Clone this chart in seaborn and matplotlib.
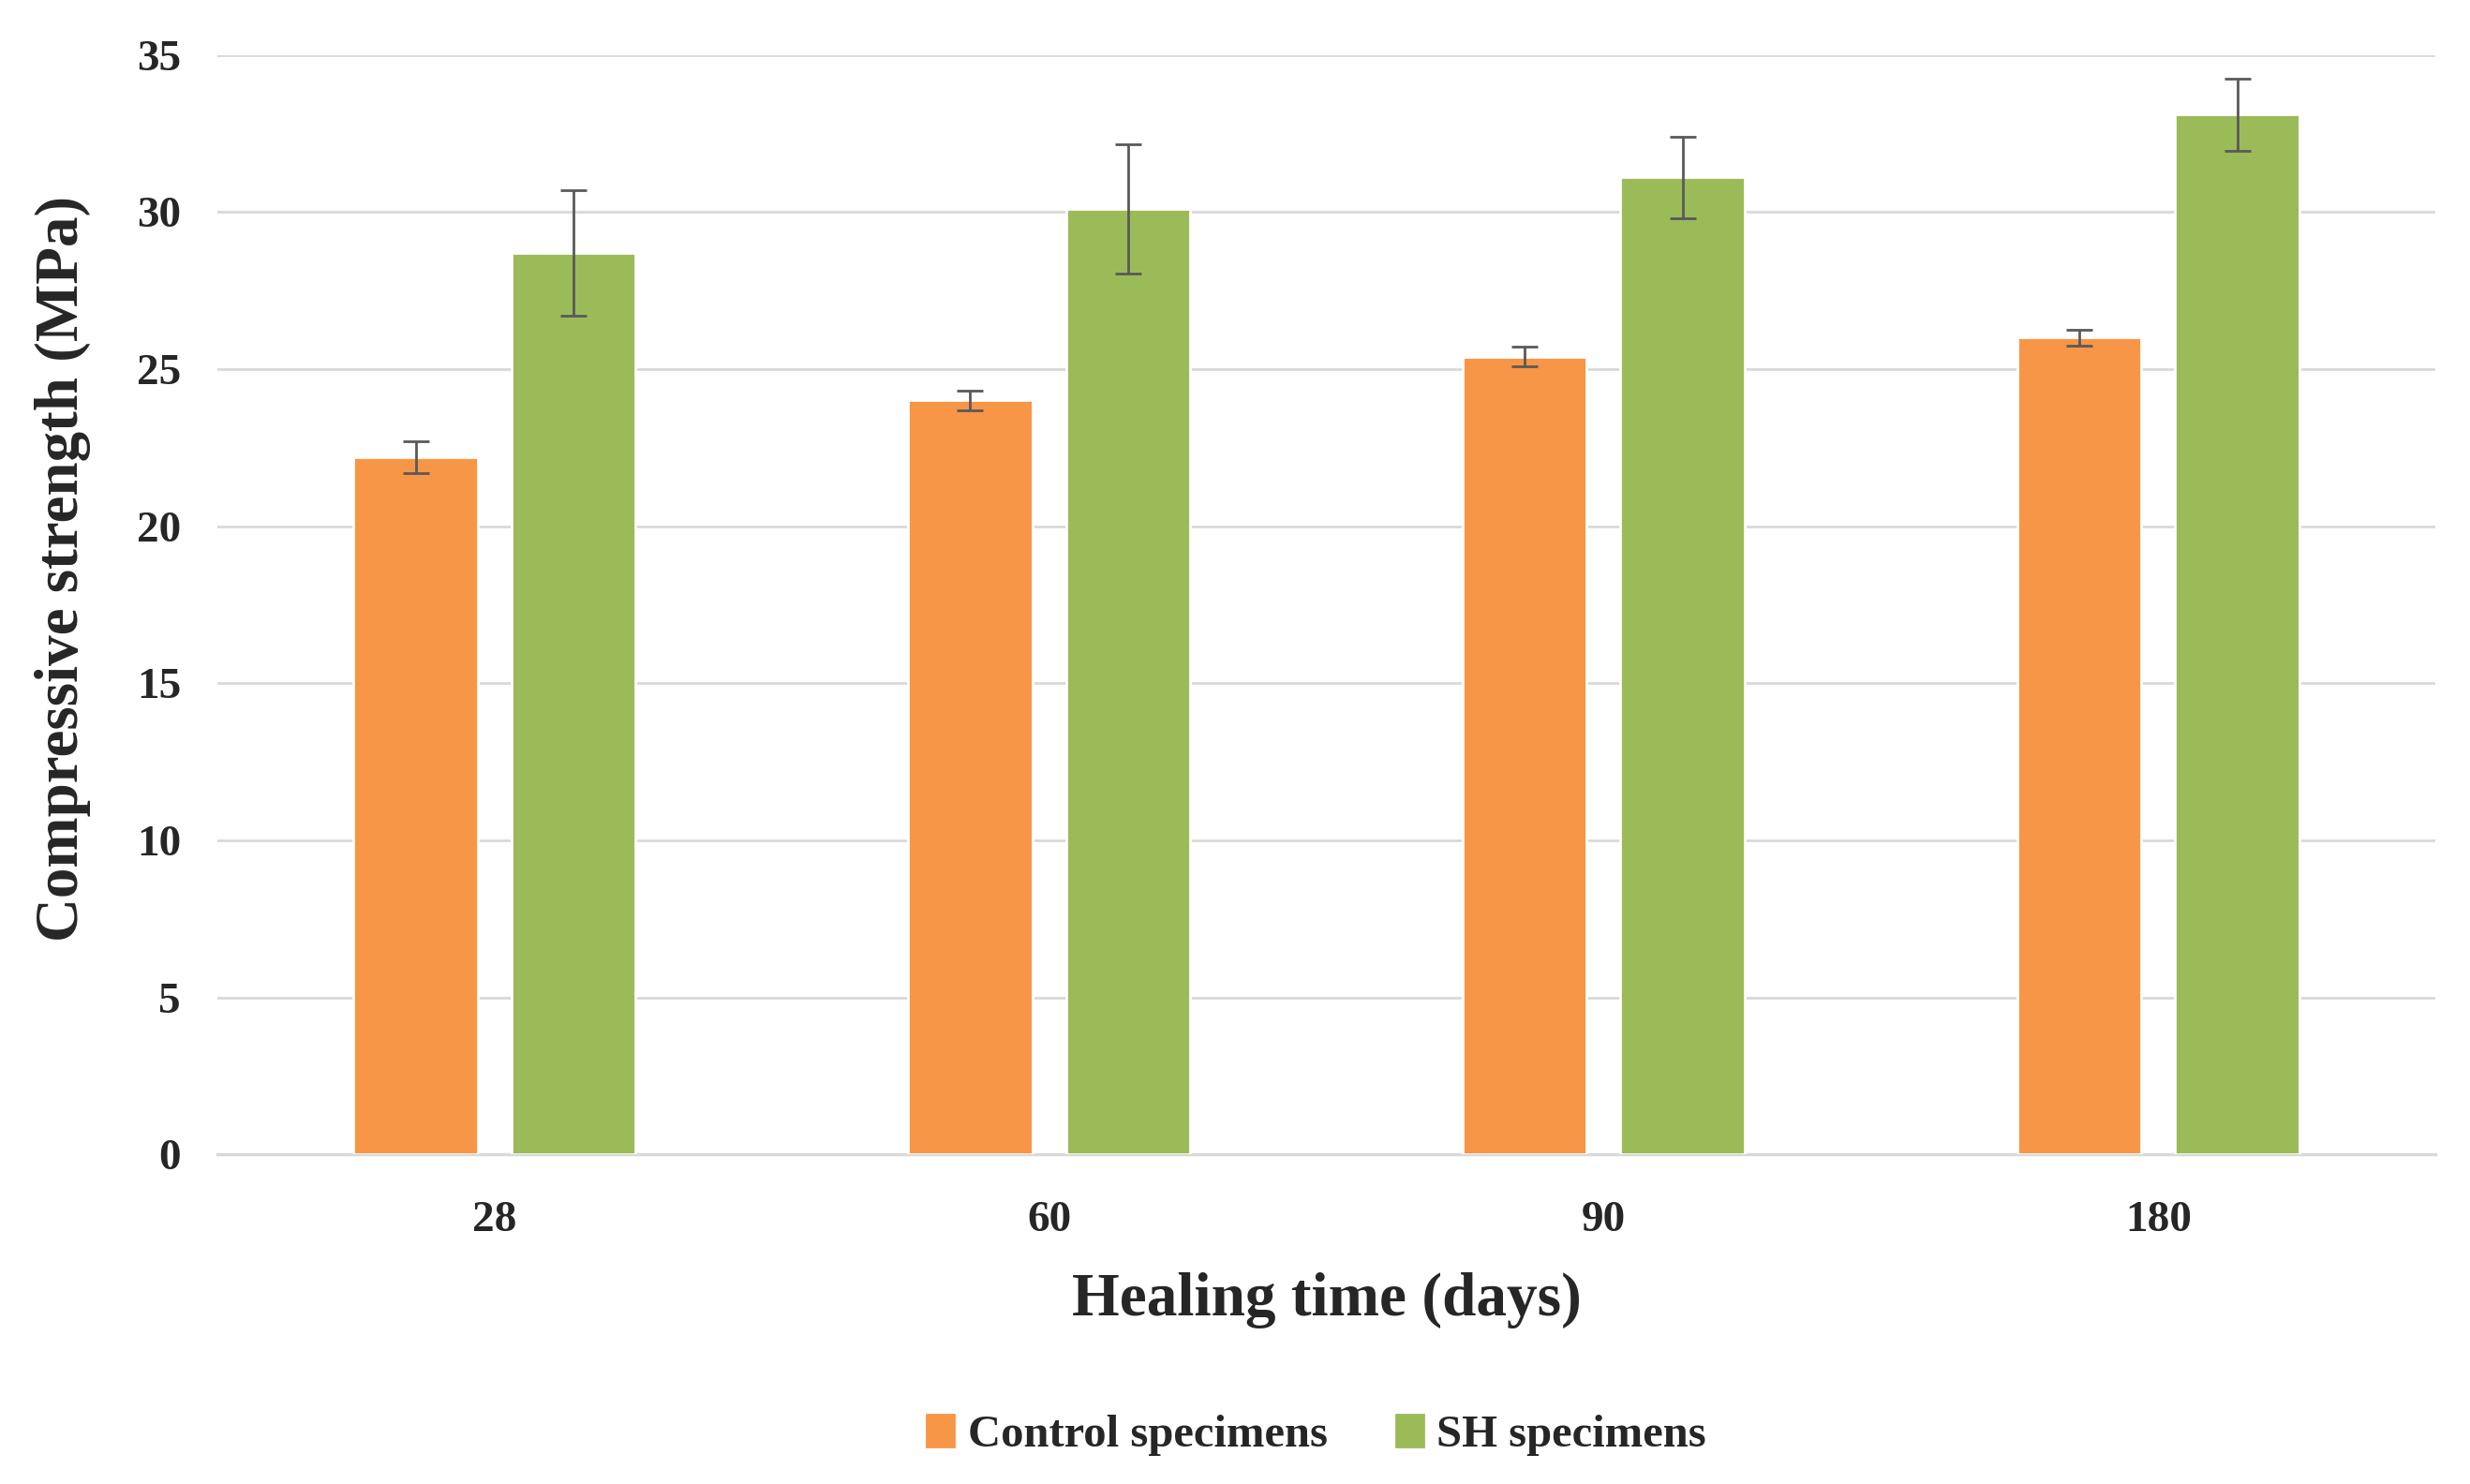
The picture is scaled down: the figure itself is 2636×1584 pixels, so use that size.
import pandas as pd
import numpy as np
import matplotlib
matplotlib.use("Agg")
import matplotlib.pyplot as plt
import seaborn as sns

# data
days = ["28", "60", "90", "180"]
control_mean = [22.2, 24.0, 25.4, 26.0]
control_err = [0.5, 0.3, 0.3, 0.25]
sh_mean = [28.7, 30.1, 31.1, 33.1]
sh_err = [2.0, 2.05, 1.3, 1.15]
groups = ["Control specimens", "SH specimens"]

colors = {"Control specimens": "#F79646", "SH specimens": "#9BBB59"}

df = pd.DataFrame({
    "days": days * 2,
    "group": [groups[0]] * 4 + [groups[1]] * 4,
    "strength": control_mean + sh_mean,
    "err": control_err + sh_err,
})

sns.set_theme(style="white")
plt.rcParams["font.family"] = ["Liberation Serif", "DejaVu Serif"]
plt.rcParams["font.weight"] = "bold"

fig = plt.figure(figsize=(13.18, 7.92), dpi=200)
ax = fig.add_axes([0.088, 0.222, 0.898, 0.741])

sns.barplot(data=df, x="days", y="strength", hue="group", order=days,
            hue_order=groups, palette=colors, width=0.57, gap=0.214,
            saturation=1, errorbar=None, ax=ax, legend=False, zorder=3)

# error bars on top of the library's bars
for patch_group, g in zip(ax.containers, groups):
    sub = df[df["group"] == g].set_index("days").loc[days]
    xs = [p.get_x() + p.get_width() / 2 for p in patch_group]
    ax.errorbar(xs, sub["strength"], yerr=sub["err"], fmt="none",
                ecolor="#595959", elinewidth=1.0, capsize=5, capthick=1.0,
                zorder=4)

ax.set_xlim(-0.5, 3.5)
ax.set_ylim(0, 35)
ax.set_yticks(np.arange(0, 36, 5))
ax.yaxis.grid(True, color="#D9D9D9", linewidth=1.0, zorder=0)
ax.set_axisbelow(True)
for s in ["top", "right", "left"]:
    ax.spines[s].set_visible(False)
ax.spines["bottom"].set_color("#D9D9D9")
ax.spines["bottom"].set_linewidth(1.2)
ax.tick_params(axis="x", length=0, pad=18, labelsize=17)
ax.tick_params(axis="y", length=0, pad=14, labelsize=17)
for lbl in ax.get_xticklabels() + ax.get_yticklabels():
    lbl.set_fontweight("bold")

ax.set_xlabel("Healing time (days)", fontsize=23.5, fontweight="bold", labelpad=12)
ax.set_ylabel("Compressive strength (MPa)", fontsize=23.4, fontweight="bold")
ax.yaxis.set_label_coords(-0.057, 0.533)

handles = [plt.Rectangle((0, 0), 1, 1, color=colors[g]) for g in groups]
fig.legend(handles, groups, loc="center", bbox_to_anchor=(0.533, 0.033),
           ncol=2, frameon=False, handlelength=0.6,
           handleheight=0.7, handletextpad=0.3, columnspacing=1.5,
           prop={"weight": "bold", "size": 17.5})

fig.savefig("out.png", dpi=200)
